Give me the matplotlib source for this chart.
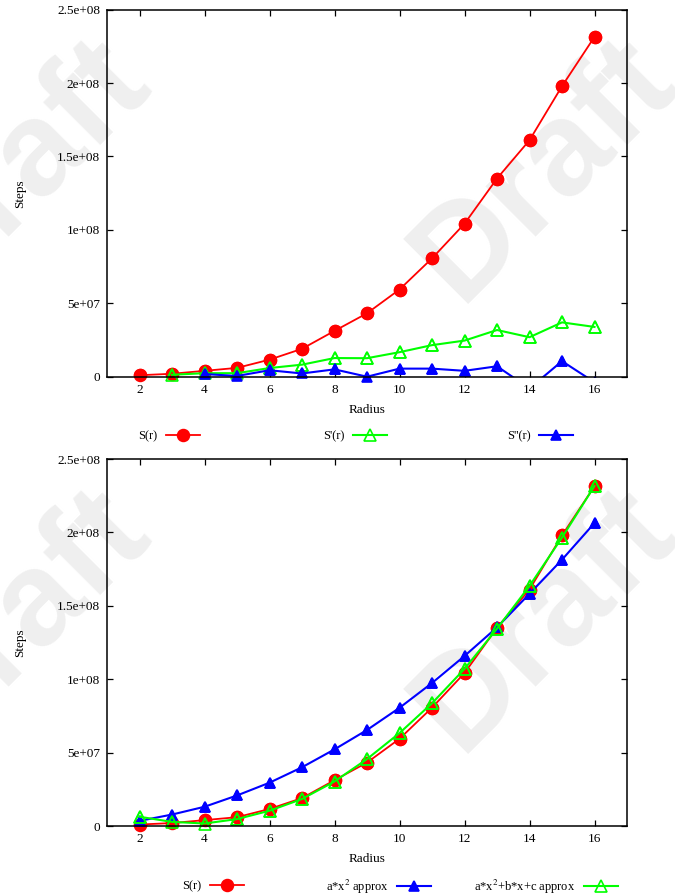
import matplotlib
matplotlib.use('Agg')
import matplotlib.pyplot as plt
import numpy as np

plt.rcParams['font.family'] = ['Liberation Serif', 'DejaVu Serif']
plt.rcParams['mathtext.fontset'] = 'stix'

# data (steps, in units of 1e6)
radius = [2, 3, 4, 5, 6, 7, 8, 9, 10, 11, 12, 13, 14, 15, 16]
steps = [1.0, 2.0, 4.0, 6.0, 11.6, 19.0, 31.2, 43.2, 59.4, 80.6, 104.2, 135.0, 161.1, 197.9, 231.5]

radius_d1 = [3, 4, 5, 6, 7, 8, 9, 10, 11, 12, 13, 14, 15, 16]
steps_d1 = [1.3, 2.4, 2.4, 5.9, 8.2, 12.7, 12.6, 16.7, 21.5, 24.6, 31.8, 26.9, 37.0, 33.9]

radius_d2 = [4, 5, 6, 7, 8, 9, 10, 11, 12, 13, 14, 15, 16]
steps_d2 = [1.8, 0.5, 4.4, 2.2, 5.0, 0.0, 5.5, 5.5, 4.0, 7.1, -8.0, 10.6, -3.8]

approx_ax2 = [3.5, 7.8, 13.1, 20.8, 29.5, 40.0, 52.2, 65.4, 80.5, 97.4, 115.8, 135.3, 158.2, 181.4, 206.4]
approx_quad = [6.3, 2.8, 1.7, 4.7, 10.4, 18.4, 30.3, 45.6, 63.3, 83.6, 107.0, 134.4, 163.5, 196.5, 231.6]

W, H = 675, 896
FS = 9.5
KFS = 9
fig = plt.figure(figsize=(W / 100, H / 100), dpi=100)
fig.patch.set_facecolor('white')

# "Draft" watermark, one set per panel
for dy in (0, 450):
    for cx in (545, 18):
        fig.text(cx / W, 1 - (170 + dy) / H, 'Draft', rotation=45, fontsize=96,
                 family='Liberation Sans', weight='bold', color='#efefef',
                 ha='center', va='center', zorder=-5)


def series(ax, x, y, color, marker, ms, lw, filled):
    x = np.array(x)
    y = np.array(y) * 1e6
    mfc = color if filled else 'none'
    line, = ax.plot(x, y, color=color, lw=lw, marker=marker, ms=ms,
                    mfc=mfc, mec=color, mew=1.2)
    # markers sitting on the frame are not cut in half
    ok = (y >= 0) & (y <= 2.5e8)
    ax.plot(x[ok], y[ok], ls='none', marker=marker, ms=ms, mfc=mfc, mec=color,
            mew=1.2, clip_on=False, zorder=line.get_zorder())
    return line


def setup(ax):
    ax.set_facecolor('none')
    ax.set_xlim(1, 17)
    ax.set_ylim(0, 2.5e8)
    ax.set_xticks([2, 4, 6, 8, 10, 12, 14, 16])
    ax.set_yticks([0, 5e7, 1e8, 1.5e8, 2e8, 2.5e8])
    ax.set_yticklabels(['0', '5e+07', '1e+08', '1.5e+08', '2e+08', '2.5e+08'])
    ax.tick_params(direction='in', length=4.5, width=0.9, top=True, right=True,
                   labelsize=FS, pad=5)
    for s in ax.spines.values():
        s.set_linewidth(1.1)
    ax.set_xlabel('Radius', fontsize=FS)
    ax.set_ylabel('Steps', fontsize=FS)
    ax.xaxis.set_label_coords(0.5, -0.074)
    ax.yaxis.set_label_coords(-0.156, 0.5)


def key(handle, label, x_right, y):
    fig.legend(handles=[handle], labels=[label], loc='center right',
               bbox_to_anchor=(x_right / W, 1 - y / H), markerfirst=False,
               frameon=False, borderpad=0, borderaxespad=0, numpoints=1,
               handlelength=2.7, handletextpad=0.7, fontsize=KFS)


ax1 = fig.add_axes([107 / W, 1 - 376.7 / H, 520 / W, 367 / H])
setup(ax1)
h1 = series(ax1, radius, steps, '#ff0000', 'o', 8.5, 1.3, True)
h2 = series(ax1, radius_d1, steps_d1, '#00ff00', '^', 8.5, 1.5, False)
h3 = series(ax1, radius_d2, steps_d2, '#0000ff', '^', 7, 1.5, True)
key(h1, 'S(r)', 200, 436)
key(h2, "S'(r)", 387, 436)
key(h3, "S''(r)", 573, 436)

ax2 = fig.add_axes([107 / W, 1 - 826 / H, 520 / W, 367 / H])
setup(ax2)
g1 = series(ax2, radius, steps, '#ff0000', 'o', 8.5, 1.3, True)
g2 = series(ax2, radius, approx_ax2, '#0000ff', '^', 7, 1.5, True)
g3 = series(ax2, radius, approx_quad, '#00ff00', '^', 8.5, 1.5, False)
key(g1, 'S(r)', 244, 886.5)
key(g2, r'a*x$^{2}$ approx', 431, 886.5)
key(g3, r'a*x$^{2}$+b*x+c approx', 618, 886.5)

fig.savefig('out.png', dpi=100)
